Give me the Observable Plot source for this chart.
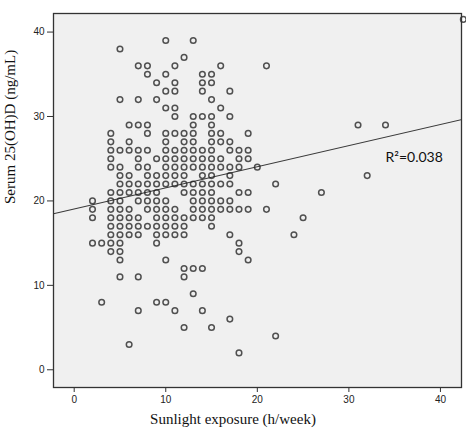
<!DOCTYPE html>
<html>
<head>
<meta charset="utf-8">
<script src="https://cdn.jsdelivr.net/npm/d3@7"></script>
<script src="https://cdn.jsdelivr.net/npm/@observablehq/plot@0.6"></script>
<style>
  html, body { margin: 0; padding: 0; background: #fff; }
</style>
</head>
<body>
<div id="chart"></div>
<script>
// Serum 25(OH)D level (ng/mL) for each row of points
const vitDLevels = [41.5, 39, 38, 37, 36, 35, 34, 33, 32, 31, 30, 29, 28, 27, 26, 25, 24, 23, 22, 21, 20, 19, 18, 17, 16, 15, 14, 13, 12, 11, 9, 8, 7, 6, 5, 4, 3, 2];
// Sunlight exposure (h/week) of the subjects at each level above
const sunHoursAtLevel = [
  [42.5],
  [10, 13],
  [5],
  [12],
  [7, 8, 11, 16, 21],
  [8, 10, 14, 15],
  [9, 11, 14, 15],
  [10, 11, 14, 17],
  [5, 7, 9, 15],
  [10, 11, 16],
  [11, 13, 14, 15, 17],
  [6, 7, 8, 13, 15, 31, 34],
  [4, 8, 10, 11, 12, 13, 15, 16, 19],
  [4, 6, 10, 12, 13, 15, 16, 17],
  [4, 5, 6, 7, 8, 10, 11, 12, 13, 14, 15, 17, 18, 19],
  [4, 7, 9, 10, 11, 12, 13, 14, 15, 16, 18, 19],
  [4, 5, 7, 8, 10, 11, 12, 13, 14, 15, 16, 17, 18, 20],
  [5, 6, 8, 9, 10, 11, 12, 14, 15, 17, 32],
  [5, 6, 7, 8, 9, 10, 11, 12, 13, 14, 15, 16, 17, 22],
  [4, 5, 6, 7, 8, 9, 12, 13, 14, 15, 18, 19, 27],
  [2, 4, 5, 7, 8, 9, 10, 13, 14, 15, 16, 17],
  [2, 4, 5, 6, 8, 9, 10, 11, 13, 14, 15, 16, 17, 18, 19, 21],
  [2, 4, 5, 6, 7, 9, 10, 11, 12, 13, 14, 15, 25],
  [4, 5, 6, 7, 8, 9, 10, 11, 12, 15],
  [4, 5, 6, 7, 9, 10, 11, 12, 17, 24],
  [2, 3, 4, 5, 9, 18],
  [4, 5, 18],
  [5, 10, 19],
  [12, 13, 14],
  [5, 7, 12],
  [13],
  [3, 9, 10],
  [7, 11, 14],
  [17],
  [12, 15],
  [22],
  [6],
  [18]
];

const xTicks = [0, 10, 20, 30, 40];
const yTicks = [0, 10, 20, 30, 40];
const xDomain = [-2.26, 42.3];
const yDomain = [-2.1, 42.2];

// Fitted linear regression line
const fitIntercept = 19.05;
const fitSlope = 0.25;
const r2Label = "R\u00B2=0.038";
const r2Pos = {x: 34.0, y: 25.1};

const xTitle = "Sunlight exposure (h/week)";
const yTitle = "Serum 25(OH)D (ng/mL)";

const points = vitDLevels.flatMap((v, i) => sunHoursAtLevel[i].map(h => ({hours: h, vitD: v})));
const fitLine = xDomain.map(x => ({x, y: fitIntercept + fitSlope * x}));

const chart = Plot.plot({
  width: 466,
  height: 441,
  marginLeft: 53,
  marginRight: 5,
  marginTop: 13,
  marginBottom: 54,
  x: {domain: xDomain},
  y: {domain: yDomain},
  style: {background: "#fff", fontFamily: "'Liberation Sans', Arial, sans-serif", fontSize: "10px", color: "#222"},
  marks: [
    Plot.frame({fill: "#f0f0f0", stroke: "none"}),
    Plot.axisX({ticks: xTicks, tickSize: 5, tickPadding: 3, label: null, stroke: "#333"}),
    Plot.axisY({ticks: yTicks, tickSize: 6, tickPadding: 3, label: null, stroke: "#333"}),
    Plot.line(fitLine, {x: "x", y: "y", stroke: "#3a3a3a", strokeWidth: 1.1, clip: true}),
    Plot.dot(points, {x: "hours", y: "vitD", r: 2.8, stroke: "#222", strokeWidth: 1.5, strokeOpacity: 0.78, fill: "none"}),
    Plot.frame({stroke: "#333", strokeWidth: 1.3}),
    Plot.text([r2Label], {x: () => r2Pos.x, y: () => r2Pos.y, textAnchor: "start", fontFamily: "Lato, 'Open Sans', sans-serif", fontSize: 14, fill: "#111"}),
    Plot.text([xTitle], {frameAnchor: "bottom", dx: -24.5, dy: 36, fontFamily: "'Liberation Serif', 'Times New Roman', serif", fontSize: 15, fill: "#111"}),
    Plot.text([yTitle], {frameAnchor: "left", rotate: -90, dx: -43, dy: 3.5, fontFamily: "'Liberation Serif', 'Times New Roman', serif", fontSize: 15, fill: "#111"})
  ]
});
document.getElementById("chart").appendChild(chart);
</script>
</body>
</html>
